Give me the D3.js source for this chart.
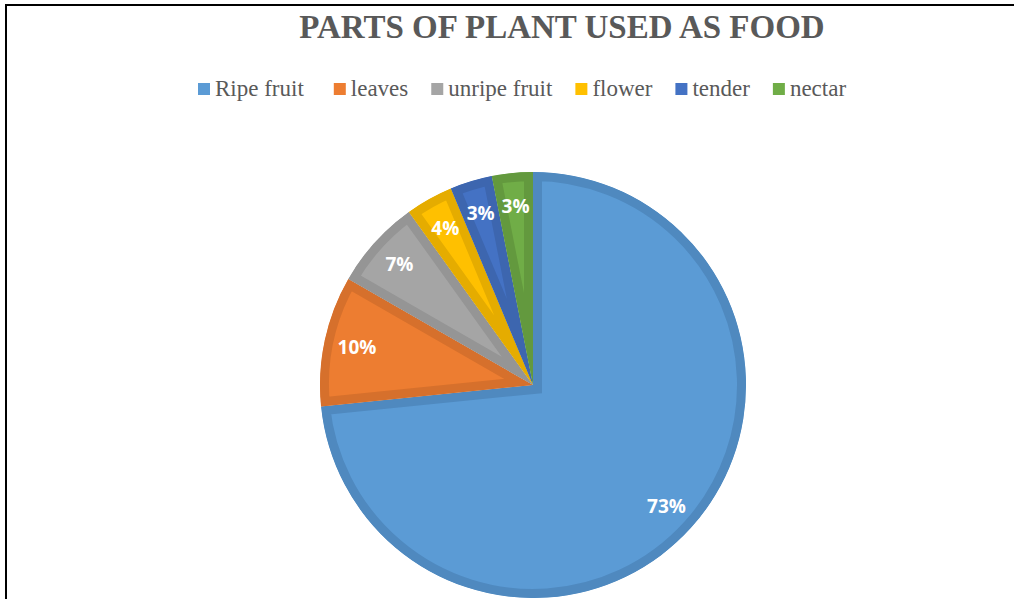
<!DOCTYPE html>
<html>
<head>
<meta charset="utf-8">
<script src="https://cdn.jsdelivr.net/npm/d3@7"></script>
<style>
  html, body { margin: 0; padding: 0; background: #fff; }
  svg { display: block; }
</style>
</head>
<body>
<svg id="chart" width="1014" height="599"></svg>
<script>
// ---- data ----
const categories = ["Ripe fruit", "leaves", "unripe fruit", "flower", "tender", "nectar"];
const values = [73.4, 9.9, 6.8, 3.6, 3.2, 3.1];
const percentLabels = ["73%", "10%", "7%", "4%", "3%", "3%"];
const fillColors = ["#5B9BD5", "#ED7D31", "#A5A5A5", "#FFC000", "#4472C4", "#70AD47"];
const borderColors = ["#4F89BF", "#D6702C", "#959595", "#E5AC00", "#3D66AF", "#63993E"];
const titleText = "PARTS OF PLANT USED AS FOOD";

const svg = d3.select("#chart");
const W = 1014, H = 599;

// frame
svg.append("path")
  .attr("d", `M6,${H} L6,5 L${W},5`)
  .attr("fill", "none").attr("stroke", "#000").attr("stroke-width", 2);

// title
svg.append("text")
  .attr("x", 562).attr("y", 38)
  .attr("text-anchor", "middle")
  .attr("font-family", "'Liberation Serif', 'Times New Roman', serif")
  .attr("font-weight", "bold")
  .attr("font-size", 33)
  .attr("fill", "#595959")
  .text(titleText);

// legend
const legend = svg.append("g");
let lx = 198;
const ly = 89;
categories.forEach((c, i) => {
  const g = legend.append("g").attr("transform", `translate(${lx},0)`);
  g.append("rect").attr("x", 0).attr("y", ly - 6).attr("width", 12).attr("height", 12).attr("fill", fillColors[i]);
  const t = g.append("text")
    .attr("x", 17).attr("y", ly + 7)
    .attr("font-family", "'Liberation Serif', 'Times New Roman', serif")
    .attr("font-size", 23)
    .attr("fill", "#595959")
    .text(c);
  const tw = t.node().getComputedTextLength();
  lx += 17 + tw + (i === 0 ? 30 : 23);
});

// pie
const cx = 533, cy = 385, R = 213, bw = 9;
const pie = d3.pie().sort(null).value(d => d)(values);
const arc = d3.arc().innerRadius(0).outerRadius(R);
const labelArc = d3.arc().innerRadius(180).outerRadius(180);

const pg = svg.append("g").attr("transform", `translate(${cx},${cy})`);

pie.forEach((d, i) => {
  const g = pg.append("g");
  const cp = g.append("clipPath").attr("id", "c" + i);
  cp.append("path").attr("d", arc(d));
  g.append("path")
    .attr("d", arc(d))
    .attr("fill", fillColors[i])
    .attr("stroke", borderColors[i])
    .attr("stroke-width", bw * 2)
    .attr("stroke-linejoin", "miter")
    .attr("clip-path", `url(#c${i})`);
});

pie.forEach((d, i) => {
  const [x, y] = labelArc.centroid(d);
  pg.append("text")
    .attr("x", x).attr("y", y)
    .attr("text-anchor", "middle")
    .attr("dominant-baseline", "central")
    .attr("font-family", "'Open Sans', 'DejaVu Sans', sans-serif")
    .attr("font-weight", "bold")
    .attr("font-size", 19)
    .attr("fill", "#fff")
    .text(percentLabels[i]);
});
</script>
</body>
</html>
